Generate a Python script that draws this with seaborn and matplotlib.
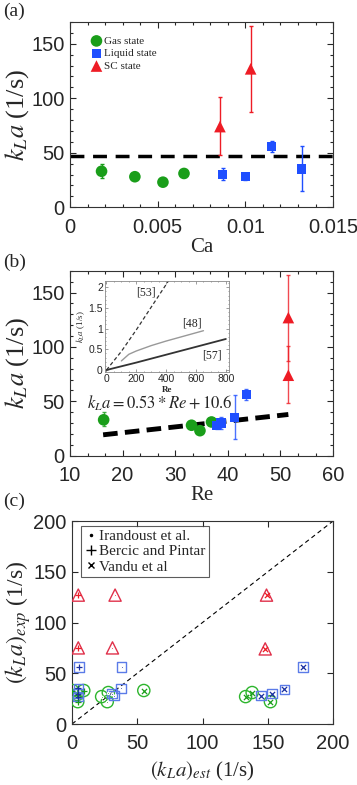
import numpy as np
import pandas as pd
import seaborn as sns
import matplotlib.pyplot as plt
from matplotlib.ticker import MultipleLocator
from matplotlib.lines import Line2D

# ---- data ----
states = ['Gas state', 'Liquid state', 'SC state']

ca_gas = [0.0018, 0.0037, 0.0053, 0.0065]
re_gas = [16.4, 33.1, 34.7, 36.9]
kla_gas = [33, 28, 23, 31]
lo_gas = [27, 28, 23, 28]
hi_gas = [40, 28, 23, 35]

ca_liq = [0.0087, 0.0100, 0.0115, 0.0132]
re_liq = [38.7, 37.9, 43.5, 41.3]
kla_liq = [30, 28, 56, 35]
lo_liq = [25, 25, 51, 15]
hi_liq = [36, 31, 61, 56]

ca_sc = [0.00855, 0.0103]
re_sc = [51.5, 51.5]
kla_sc = [74, 127]
lo_sc = [48, 87]
hi_sc = [101, 166]

mean_line = 47
fit_re = [16.3, 51.5]
fit_kla = [19.2, 37.9]

# inset correlations
ins_53_re = [0, 100, 200, 300, 415]
ins_53_k = [0, 0.45, 0.97, 1.52, 2.15]
ins_48_re = [100, 150, 200, 300, 400, 500, 650]
ins_48_k = [0.22, 0.38, 0.46, 0.59, 0.70, 0.80, 0.95]
ins_57_re = [0, 200, 400, 600, 800]
ins_57_k = [0, 0.18, 0.37, 0.56, 0.75]

# panel (c): estimated vs experimental kLa for three correlations
c_est = {
    'Irandoust': {'Gas state': [22.7, 27.8, 27.0],
                  'Liquid state': [38.0, 37.3, 32.4, 30.4],
                  'SC state': [33.0, 31.0]},
    'Bercic': {'Gas state': [0.3, 9.0, 4.4, 4.0],
               'Liquid state': [5.4, 4.9, 4.4, 4.4],
               'SC state': [4.8, 4.8]},
    'Vandu': {'Gas state': [55.0, 133.0, 138.0, 152.0],
              'Liquid state': [177.0, 162.7, 153.0, 145.0],
              'SC state': [149.0, 148.0]},
}
c_exp = {
    'Irandoust': {'Gas state': [27, 31, 22],
                  'Liquid state': [56, 35, 28, 30],
                  'SC state': [127, 75]},
    'Bercic': {'Gas state': [33, 33, 22, 29],
               'Liquid state': [56, 35, 30, 27],
               'SC state': [127, 75]},
    'Vandu': {'Gas state': [33, 27, 31, 22],
              'Liquid state': [56, 34, 30, 28],
              'SC state': [127, 74]},
}
inner_marker = {'Irandoust': '.', 'Bercic': '+', 'Vandu': 'x'}
legend_names = ['Irandoust et al.', 'Bercic and Pintar', 'Vandu et al']

# ---- styling ----
sns.set_theme(style='ticks')
plt.rcParams['font.family'] = ['Liberation Sans', 'DejaVu Sans']
plt.rcParams['mathtext.fontset'] = 'stix'
serif = 'Liberation Serif'

colors = {'Gas state': '#1a9e1a', 'Liquid state': '#1f4fff', 'SC state': '#ee1c25'}
light = {'Gas state': '#2db52d', 'Liquid state': '#5b7be8', 'SC state': '#e0304a'}
markers = {'Gas state': 'o', 'Liquid state': 's', 'SC state': '^'}
sizes = {'Gas state': 70, 'Liquid state': 45, 'SC state': 70}

df = pd.DataFrame({
    'Ca': ca_gas + ca_liq + ca_sc,
    'Re': re_gas + re_liq + re_sc,
    'kla': kla_gas + kla_liq + kla_sc,
    'lo': lo_gas + lo_liq + lo_sc,
    'hi': hi_gas + hi_liq + hi_sc,
    'state': ['Gas state'] * 4 + ['Liquid state'] * 4 + ['SC state'] * 2,
})


def style_axes(ax):
    ax.tick_params(which='both', direction='in', top=True, right=True,
                   labelsize=14.5, width=0.8)
    ax.tick_params(axis='x', pad=7.5)
    ax.tick_params(axis='y', pad=4)
    ax.tick_params(which='major', length=4)
    ax.tick_params(which='minor', length=2)
    for s in ax.spines.values():
        s.set_linewidth(0.8)
        s.set_color('#333333')


fig = plt.figure(figsize=(3.57, 7.85), dpi=100)

# ---- (a) ----
axa = fig.add_axes([0.196, 0.736, 0.737, 0.236])
for st in states:
    d = df[df.state == st]
    axa.errorbar(d.Ca, d.kla, yerr=[d.kla - d.lo, d.hi - d.kla], fmt='none',
                 ecolor=colors[st], elinewidth=1, capsize=1.5, zorder=2)
    sns.scatterplot(data=d, x='Ca', y='kla', marker=markers[st], color=colors[st],
                    s=sizes[st], edgecolor='none', label=st, ax=axa, zorder=3)
axa.axhline(mean_line, color='black', lw=2.5, ls=(0, (4, 2.5)), zorder=1)
axa.set_xlim(0, 0.015)
axa.set_ylim(0, 170)
axa.xaxis.set_minor_locator(MultipleLocator(0.001))
axa.yaxis.set_major_locator(MultipleLocator(50))
axa.yaxis.set_minor_locator(MultipleLocator(10))
axa.set_xticks([0, 0.005, 0.01, 0.015], ['0', '0.005', '0.01', '0.015'])
style_axes(axa)
axa.set_xlabel('Ca', fontsize=15, family=serif, labelpad=1)
axa.set_ylabel('$k_La$ (1/s)', fontsize=19, family=serif, labelpad=0)
axa.legend(loc='upper left', bbox_to_anchor=(0.05, 0.96), frameon=False,
           prop={'family': serif, 'size': 8}, handletextpad=0.1,
           borderaxespad=0.2, labelspacing=0.25, handlelength=1.2)

# ---- (b) ----
axb = fig.add_axes([0.196, 0.4195, 0.737, 0.2355])
for st in states:
    d = df[df.state == st]
    axb.errorbar(d.Re, d.kla, yerr=[d.kla - d.lo, d.hi - d.kla], fmt='none',
                 ecolor=colors[st], elinewidth=1, capsize=1.5, zorder=2, alpha=0.8)
    sns.scatterplot(data=d, x='Re', y='kla', marker=markers[st], color=colors[st],
                    s=sizes[st], edgecolor='none', ax=axb, zorder=3, legend=False)
sns.lineplot(x=fit_re, y=fit_kla, color='black', lw=3.5, ax=axb, zorder=1)
axb.lines[-1].set_linestyle((0, (3, 1.5)))
axb.text(13.2, 48, '$k_La = 0.53 * Re + 10.6$', fontsize=12, va='center')
axb.set_xlim(10, 60)
axb.set_ylim(0, 170)
axb.xaxis.set_major_locator(MultipleLocator(10))
axb.xaxis.set_minor_locator(MultipleLocator(10 / 3))
axb.yaxis.set_major_locator(MultipleLocator(50))
axb.yaxis.set_minor_locator(MultipleLocator(10))
style_axes(axb)
axb.set_xlabel('Re', fontsize=15, family=serif, labelpad=1)
axb.set_ylabel('$k_La$ (1/s)', fontsize=19, family=serif, labelpad=0)

# inset
axi = fig.add_axes([0.294, 0.526, 0.347, 0.116])
sns.lineplot(x=ins_53_re, y=ins_53_k, color='#333333', lw=0.9, ls=(0, (3, 2)), ax=axi)
sns.lineplot(x=ins_48_re, y=ins_48_k, color='#999999', lw=1.0, ax=axi)
sns.lineplot(x=ins_57_re, y=ins_57_k, color='#333333', lw=1.3, ax=axi)
axi.text(265, 1.88, '[53]', fontsize=8.5, family=serif, ha='center', va='center')
axi.text(576, 1.13, '[48]', fontsize=8.5, family=serif, ha='center', va='center')
axi.text(710, 0.36, '[57]', fontsize=8.5, family=serif, ha='center', va='center')
axi.set_xlim(-10, 820)
axi.set_ylim(-0.05, 2.15)
axi.set_xticks([0, 200, 400, 600, 800])
axi.set_yticks([0, 0.5, 1, 1.5, 2], ['0', '0.5', '1', '1.5', '2'])
axi.xaxis.set_minor_locator(MultipleLocator(50))
axi.yaxis.set_minor_locator(MultipleLocator(0.1))
axi.tick_params(which='both', direction='in', top=True, right=True,
                labelsize=7.5, pad=1.5, width=0.5, color='#777777')
axi.tick_params(which='major', length=2)
axi.tick_params(which='minor', length=1)
for s in axi.spines.values():
    s.set_linewidth(0.6)
    s.set_color('#888888')
axi.set_xlabel('Re', fontsize=6.5, family=serif, labelpad=1, fontweight='bold')
axi.set_ylabel('$k_La$ (1/s)', fontsize=6.5, family=serif, labelpad=1)

# ---- (c) ----
axc = fig.add_axes([0.2017, 0.0777, 0.7313, 0.2586])
for corr in ['Irandoust', 'Bercic', 'Vandu']:
    for st in states:
        x = c_est[corr][st]
        y = c_exp[corr][st]
        sns.scatterplot(x=x, y=y, marker=markers[st], s=sizes[st] * 1.1,
                        facecolor='none', edgecolor=light[st], linewidth=1.0,
                        ax=axc, zorder=3, legend=False)
        sns.scatterplot(x=x, y=y, marker=inner_marker[corr],
                        s=14 if corr != 'Irandoust' else 10,
                        color=colors[st] if st != 'Liquid state' else '#1a2fa0',
                        linewidth=0.9, ax=axc, zorder=4, legend=False)
sns.lineplot(x=[0, 200], y=[0, 200], color='black', lw=0.8, ls=(0, (4, 3)),
             ax=axc, zorder=1)
axc.set_xlim(0, 200)
axc.set_ylim(0, 200)
axc.xaxis.set_major_locator(MultipleLocator(50))
axc.yaxis.set_major_locator(MultipleLocator(50))
style_axes(axc)
axc.set_xlabel('$(k_La)_{est}$ (1/s)', fontsize=15, family=serif, labelpad=5)
axc.set_ylabel('$(k_La)_{exp}$ (1/s)', fontsize=17, family=serif, labelpad=0)
handles = [Line2D([], [], ls='none', marker=m, color='black', markersize=ms)
           for m, ms in zip(['.', '+', 'x'], [3, 7, 5])]
leg = axc.legend(handles, legend_names, loc='upper left',
                 bbox_to_anchor=(0.03, 0.985), frameon=True, fancybox=False,
                 prop={'family': serif, 'size': 11}, handletextpad=0.1,
                 handlelength=0.8, borderpad=0.25, labelspacing=0.1,
                 borderaxespad=0.1)
leg.get_frame().set_edgecolor('#333333')
leg.get_frame().set_linewidth(0.8)

# panel labels
fig.text(0.008, 0.997, '(a)', fontsize=14, family=serif, va='top')
fig.text(0.008, 0.677, '(b)', fontsize=14, family=serif, va='top')
fig.text(0.008, 0.373, '(c)', fontsize=14, family=serif, va='top')

fig.savefig('out.png', dpi=100)
